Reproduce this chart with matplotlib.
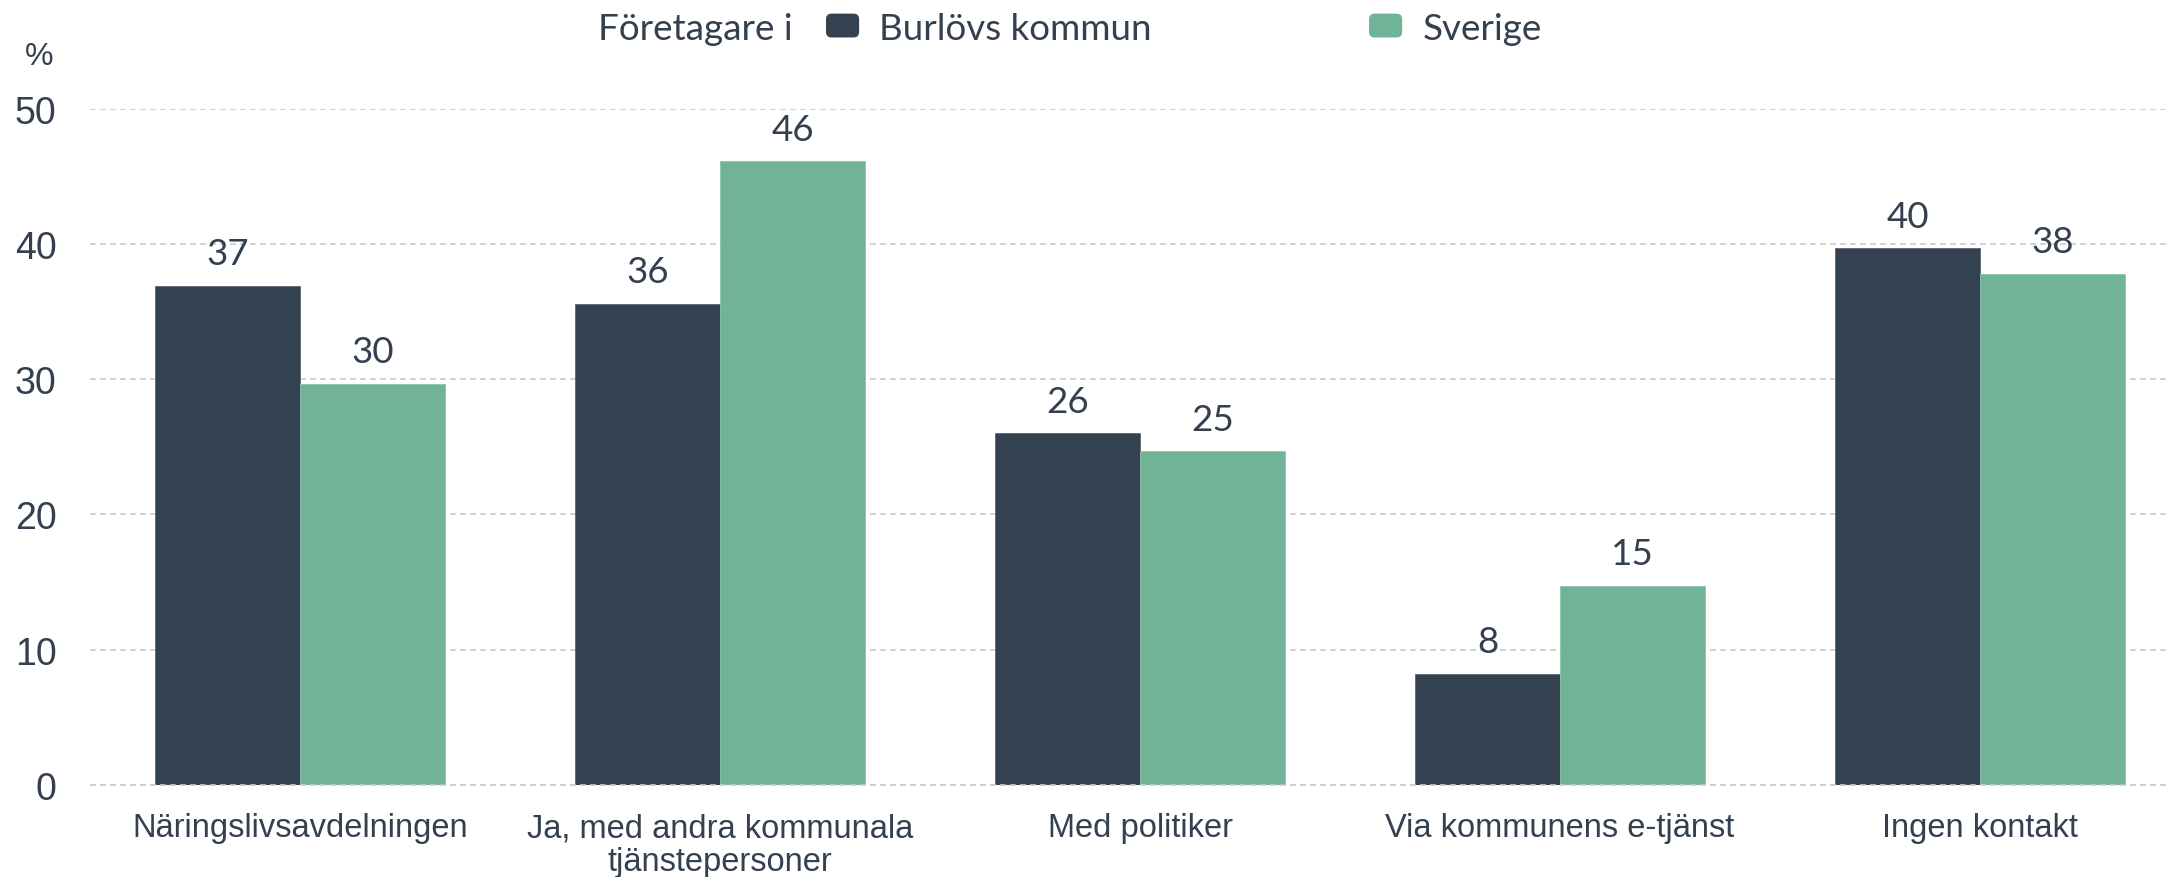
import numpy as np
import matplotlib
matplotlib.use("Agg")
import matplotlib.pyplot as plt
import matplotlib.patches as mpatches
from matplotlib.legend_handler import HandlerPatch

# data
categories = ["Näringslivsavdelningen", "Ja, med andra kommunala\ntjänstepersoner",
              "Med politiker", "Via kommunens e-tjänst", "Ingen kontakt"]
burlov = [36.93, 35.57, 26.0, 8.19, 39.69]
sverige = [29.66, 46.15, 24.67, 14.73, 37.79]
series_names = ["Burlövs kommun", "Sverige"]
yticks = [0, 10, 20, 30, 40, 50]

dark = "#334150"
green = "#70b396"
txt = "#34404f"


class RoundHandler(HandlerPatch):
    def create_artists(self, legend, orig_handle, xdescent, ydescent,
                       width, height, fontsize, trans):
        p = mpatches.FancyBboxPatch((-xdescent, -ydescent), width, height,
                                    boxstyle="round,pad=0,rounding_size=4",
                                    facecolor=orig_handle.get_facecolor(),
                                    edgecolor="none", transform=trans)
        return [p]


fig = plt.figure(figsize=(21.66, 8.78), dpi=100)
ax = fig.add_axes([90 / 2166, 92.3 / 878, 1 - 90 / 2166, 675.7 / 878])

x = np.arange(len(categories))
w = 0.345
b1 = ax.bar(x - w / 2, burlov, w, color=dark, edgecolor="#5a6673", linewidth=0.6, label=series_names[0], zorder=2)
b2 = ax.bar(x + w / 2, sverige, w, color=green, edgecolor="#8cc4ab", linewidth=0.6, label=series_names[1], zorder=2)

for bars, vals in [(b1, burlov), (b2, sverige)]:
    for r, v in zip(bars, vals):
        ax.annotate(f"{v:.0f}", (r.get_x() + r.get_width() / 2, v),
                    xytext=(0, 15.5), textcoords="offset points",
                    ha="center", va="baseline", fontsize=26.5,
                    family="Lato", color=txt, zorder=3)

ax.set_xlim(-0.5, (2166 - 300) / 420)
ax.set_ylim(0, 50)
ax.set_yticks(yticks)
ax.set_xticks(x)
ax.set_xticklabels(categories, family="Liberation Sans", fontsize=23.5, color=txt, linespacing=1.1)
for lab in ax.get_yticklabels():
    lab.set_family("Liberation Sans")
    lab.set_fontsize(27)
    lab.set_color(txt)
ax.tick_params(axis="y", length=0, pad=24)
ax.tick_params(axis="x", length=0, pad=20)
for s in ax.spines.values():
    s.set_visible(False)
ax.set_axisbelow(True)
ax.yaxis.grid(True, color="#c9c9c9", linestyle=(0, (3.5, 2.5)), linewidth=1.2)
ax.axhline(0, color="#c9c9c9", linestyle=(0, (3.5, 2.5)), linewidth=1.2, zorder=3, clip_on=False)

fig.text(39 / 2166, 1 - 57 / 878, "%", ha="center", va="center",
         family="Liberation Sans", fontsize=23, color=txt)
fig.text(598 / 2166, 1 - 40 / 878, "Företagare i", ha="left", va="baseline",
         family="Lato", fontsize=26.5, color=txt)

handles = [mpatches.Patch(facecolor=dark), mpatches.Patch(facecolor=green)]
leg = fig.legend(handles, series_names, loc="center left",
                 bbox_to_anchor=(826 / 2166, 1 - 29 / 878), ncol=2, frameon=False,
                 prop={"family": "Lato", "size": 26.5}, handlelength=0.9, handleheight=0.62,
                 handletextpad=0.55, columnspacing=5.9, borderpad=0, borderaxespad=0,
                 handler_map={mpatches.Patch: RoundHandler()})
for t in leg.get_texts():
    t.set_color(txt)

fig.savefig("out.png", dpi=100)
